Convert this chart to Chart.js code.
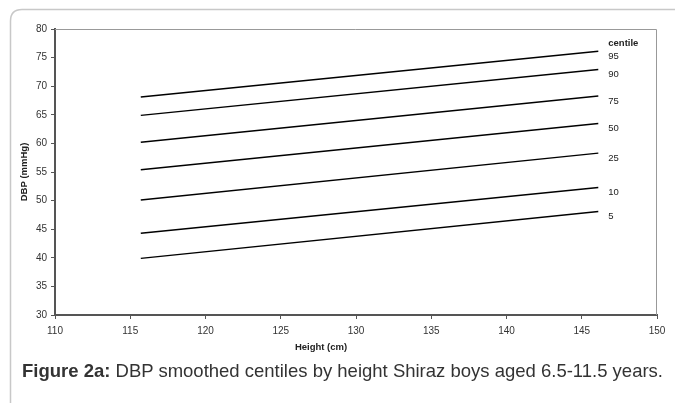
<!DOCTYPE html>
<html>
<head>
<meta charset="utf-8">
<script src="https://cdn.jsdelivr.net/npm/chart.js@4"></script>
<style>
  html, body { margin: 0; padding: 0; background: #fff; }
  #wrap { position: relative; width: 675px; height: 403px; }
  #caption {
    position: absolute; left: 22px; top: 360px;
    font-family: "Liberation Sans", Arial, sans-serif; font-size: 18.5px; color: #333;
    white-space: nowrap;
  }
</style>
</head>
<body>
<div id="wrap">
  <canvas id="chart" width="675" height="403"></canvas>
  <div id="caption"><b>Figure 2a:</b> DBP smoothed centiles by height Shiraz boys aged 6.5-11.5 years.</div>
</div>
<script>
const heights = [115.7, 146.1];
const centiles = ['95', '90', '75', '50', '25', '10', '5'];
const p95 = [68.1, 76.1];
const p90 = [64.9, 72.9];
const p75 = [60.2, 68.3];
const p50 = [55.4, 63.5];
const p25 = [50.1, 58.3];
const p10 = [44.3, 52.3];
const p5 = [39.9, 48.1];
const series = [p95, p90, p75, p50, p25, p10, p5];

const FONT = '"Liberation Sans", Arial, sans-serif';

// outer frame, plot border, centile labels and x title
const decor = {
    id: 'decor',
    beforeDraw(chart) {
        const ctx = chart.ctx;
        ctx.save();
        ctx.strokeStyle = '#c8c8c8';
        ctx.lineWidth = 1.5;
        ctx.beginPath();
        ctx.moveTo(675, 9.5);
        ctx.lineTo(22, 9.5);
        ctx.quadraticCurveTo(10.5, 9.5, 10.5, 21);
        ctx.lineTo(10.5, 403);
        ctx.stroke();
        ctx.restore();
    },
    afterDraw(chart) {
        const ctx = chart.ctx;
        const a = chart.chartArea;
        const x = chart.scales.x, y = chart.scales.y;
        ctx.save();
        ctx.strokeStyle = '#999';
        ctx.lineWidth = 1;
        ctx.beginPath();
        ctx.moveTo(a.left, a.top + 0.5);
        ctx.lineTo(a.right - 0.5, a.top + 0.5);
        ctx.lineTo(a.right - 0.5, a.bottom);
        ctx.stroke();

        ctx.fillStyle = '#222';
        ctx.textBaseline = 'middle';
        ctx.textAlign = 'left';
        const lx = x.getPixelForValue(heights[1]) + 10;
        ctx.font = 'bold 9.5px ' + FONT;
        ctx.fillText('centile', lx, y.getPixelForValue(series[0][1]) - 8);
        ctx.font = '9.5px ' + FONT;
        series.forEach((s, i) => {
            ctx.fillText(centiles[i], lx, y.getPixelForValue(s[1]) + 5);
        });

        ctx.font = 'bold 9.5px ' + FONT;
        ctx.textAlign = 'center';
        ctx.fillText('Height (cm)', 321, 347);
        ctx.restore();
    }
};

new Chart(document.getElementById('chart'), {
    type: 'line',
    data: {
        datasets: series.map((s, i) => ({
            label: centiles[i],
            data: heights.map((h, j) => ({ x: h, y: s[j] })),
            borderColor: '#000',
            borderWidth: 1.5,
            pointRadius: 0,
            fill: false,
        })),
    },
    options: {
        responsive: false,
        animation: false,
        layout: { padding: { left: 0, top: 29, right: 18, bottom: 58 } },
        plugins: { legend: { display: false }, tooltip: { enabled: false } },
        scales: {
            x: {
                type: 'linear',
                min: 110,
                max: 150,
                afterFit: (s) => { s.height = 30; },
                ticks: { stepSize: 5, color: '#333', font: { family: FONT, size: 10 }, padding: 6 },
                grid: { drawOnChartArea: false, drawTicks: true, tickLength: 4, color: '#555', lineWidth: 1 },
                border: { display: true, color: '#555', width: 2 },
            },
            y: {
                min: 30,
                max: 80,
                afterFit: (s) => { s.width = 55; },
                ticks: { stepSize: 5, color: '#333', font: { family: FONT, size: 10 }, padding: 4 },
                grid: { drawOnChartArea: false, drawTicks: true, tickLength: 4, color: '#555', lineWidth: 1 },
                border: { display: true, color: '#555', width: 2 },
                title: { display: true, text: 'DBP (mmHg)', color: '#222', font: { family: FONT, size: 9.5, weight: 'bold' }, padding: { top: 19, bottom: 0 } },
            },
        },
    },
    plugins: [decor],
});
</script>
</body>
</html>
